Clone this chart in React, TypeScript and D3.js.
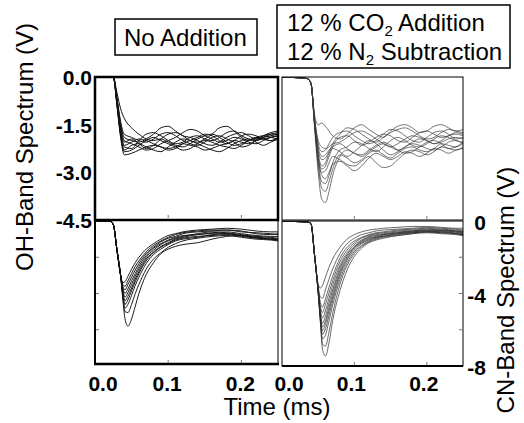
import * as d3 from 'd3';

// OH band, no addition
const ohTimeA = [0, 0.02, 0.025, 0.03, 0.035, 0.04, 0.05, 0.06, 0.07, 0.08, 0.09, 0.1, 0.11, 0.12, 0.13, 0.14, 0.15, 0.16, 0.17, 0.18, 0.19, 0.2, 0.21, 0.22, 0.23, 0.24, 0.25];
const ohNoAdd = [
  [0, 0, 0, -0.9, -1.9, -2.45, -2.4, -2.3, -2.2, -2.15, -2.2, -2.25, -2.2, -2.1, -2.15, -2.2, -2.3, -2.25, -2.15, -2.1, -2.0, -2.05, -2.1, -2.0, -1.95, -1.9, -1.85],
  [0, 0, 0, -0.8, -1.7, -2.2, -2.25, -2.0, -1.8, -1.75, -1.85, -2.0, -2.1, -2.05, -1.9, -1.85, -1.95, -2.0, -1.9, -1.75, -1.7, -1.85, -1.95, -2.0, -1.9, -1.8, -1.75],
  [0, 0, 0, -0.7, -1.5, -1.9, -2.0, -2.05, -1.95, -1.8, -1.6, -1.55, -1.7, -1.85, -1.9, -2.0, -2.1, -2.15, -2.05, -1.9, -1.8, -1.75, -1.85, -1.95, -1.9, -1.85, -1.8],
  [0, 0, 0, -0.5, -1.0, -1.3, -1.6, -1.8, -1.95, -2.0, -1.95, -2.05, -2.15, -2.2, -2.1, -1.95, -1.85, -1.8, -1.9, -2.05, -2.15, -2.1, -2.0, -1.9, -1.85, -1.9, -1.95],
  [0, 0, 0, -0.85, -1.8, -2.3, -2.15, -2.1, -2.2, -2.3, -2.35, -2.2, -2.05, -1.95, -2.0, -2.1, -2.2, -2.3, -2.35, -2.25, -2.1, -2.0, -1.95, -2.05, -2.15, -2.05, -1.95],
  [0, 0, 0, -0.75, -1.6, -2.05, -1.95, -2.1, -2.25, -2.15, -1.95, -1.8, -1.75, -1.85, -2.0, -2.05, -1.95, -1.8, -1.6, -1.55, -1.7, -1.9, -2.0, -1.95, -1.85, -1.75, -1.7],
  [0, 0, 0, -0.8, -1.75, -2.15, -2.05, -1.95, -2.0, -2.1, -2.2, -2.3, -2.25, -2.1, -2.0, -1.9, -1.8, -1.85, -2.0, -2.1, -2.0, -1.85, -1.8, -1.85, -1.95, -2.0, -1.9],
  [0, 0, 0, -0.7, -1.55, -2.0, -2.1, -2.2, -2.3, -2.25, -2.1, -2.0, -1.9, -1.75, -1.65, -1.7, -1.85, -1.95, -2.05, -2.0, -1.9, -1.95, -2.05, -2.1, -2.0, -1.9, -1.85],
  [0, 0, 0, -0.9, -1.85, -2.35, -2.3, -2.15, -2.0, -1.9, -2.0, -2.1, -2.2, -2.3, -2.25, -2.1, -2.0, -2.05, -2.15, -2.2, -2.25, -2.15, -2.0, -1.9, -1.95, -2.0, -1.95],
  [0, 0, 0, -0.65, -1.4, -1.8, -1.9, -2.0, -2.05, -1.95, -1.8, -1.75, -1.85, -2.0, -2.1, -2.15, -2.05, -1.9, -1.85, -1.95, -2.05, -2.2, -2.15, -2.0, -1.85, -1.8, -1.8],
];

// OH band, 12 % CO2 addition
const ohTimeB = [0, 0.02, 0.035, 0.04, 0.045, 0.05, 0.055, 0.06, 0.065, 0.07, 0.08, 0.09, 0.1, 0.11, 0.12, 0.13, 0.14, 0.15, 0.16, 0.17, 0.18, 0.19, 0.2, 0.21, 0.22, 0.23, 0.24, 0.25];
const ohCo2 = [
  [0, -0.02, -0.05, -0.2, -1.6, -3.0, -3.85, -3.95, -3.6, -3.1, -2.5, -2.3, -2.4, -2.5, -2.35, -2.2, -2.1, -2.2, -2.3, -2.2, -2.05, -1.95, -2.0, -2.1, -2.05, -1.95, -1.9, -1.95],
  [0, -0.02, -0.05, -0.2, -1.5, -2.8, -3.5, -3.6, -3.3, -2.9, -2.45, -2.55, -2.7, -2.6, -2.4, -2.3, -2.45, -2.55, -2.4, -2.25, -2.2, -2.3, -2.35, -2.25, -2.1, -2.15, -2.2, -2.1],
  [0, -0.02, -0.05, -0.2, -1.5, -2.7, -3.3, -3.35, -3.1, -2.7, -2.3, -2.2, -2.05, -2.1, -2.25, -2.35, -2.2, -2.0, -1.9, -2.0, -2.15, -2.2, -2.1, -1.95, -1.85, -1.9, -2.0, -2.05],
  [0, -0.02, -0.05, -0.2, -1.5, -2.6, -3.0, -2.95, -2.7, -2.5, -2.6, -2.75, -2.8, -2.65, -2.5, -2.7, -2.85, -2.8, -2.6, -2.4, -2.3, -2.35, -2.45, -2.35, -2.2, -2.25, -2.3, -2.2],
  [0, -0.02, -0.05, -0.2, -1.45, -2.5, -2.9, -2.8, -2.5, -2.2, -1.9, -1.85, -2.0, -2.15, -2.05, -1.9, -1.8, -1.85, -2.0, -2.05, -1.9, -1.75, -1.7, -1.8, -1.9, -1.85, -1.75, -1.8],
  [0, -0.02, -0.05, -0.2, -1.4, -2.4, -2.8, -2.7, -2.4, -2.25, -2.35, -2.5, -2.35, -2.15, -2.0, -2.1, -2.3, -2.45, -2.35, -2.2, -2.1, -2.15, -2.25, -2.3, -2.2, -2.05, -2.0, -2.1],
  [0, -0.02, -0.05, -0.2, -1.4, -2.3, -2.6, -2.55, -2.35, -2.1, -1.8, -1.6, -1.65, -1.8, -1.95, -2.05, -1.9, -1.75, -1.65, -1.6, -1.7, -1.85, -1.95, -1.9, -1.75, -1.65, -1.7, -1.75],
  [0, -0.02, -0.05, -0.2, -1.3, -2.2, -2.5, -2.45, -2.3, -2.2, -2.1, -2.25, -2.4, -2.45, -2.3, -2.15, -2.05, -2.15, -2.3, -2.4, -2.35, -2.2, -2.05, -2.0, -2.1, -2.25, -2.2, -2.05],
  [0, -0.02, -0.05, -0.2, -1.2, -1.5, -1.45, -1.55, -1.7, -1.85, -1.95, -1.8, -1.6, -1.5, -1.65, -1.8, -1.9, -1.7, -1.55, -1.5, -1.6, -1.75, -1.7, -1.55, -1.5, -1.6, -1.7, -1.65],
  [0, -0.02, -0.05, -0.2, -1.3, -2.0, -2.2, -2.25, -2.2, -2.1, -2.05, -1.9, -1.75, -1.7, -1.8, -1.95, -2.1, -2.2, -2.1, -1.95, -1.85, -1.9, -2.0, -2.1, -2.0, -1.85, -1.8, -1.85],
  [0, -0.02, -0.05, -0.2, -1.45, -2.55, -3.1, -3.2, -3.0, -2.75, -2.65, -2.8, -2.95, -2.8, -2.55, -2.4, -2.5, -2.6, -2.5, -2.35, -2.4, -2.5, -2.4, -2.25, -2.3, -2.4, -2.3, -2.25],
  [0, -0.02, -0.05, -0.2, -1.35, -2.1, -2.35, -2.3, -2.1, -1.9, -1.75, -1.7, -1.85, -2.0, -2.1, -2.0, -1.8, -1.65, -1.7, -1.85, -2.0, -2.05, -1.9, -1.75, -1.7, -1.8, -1.95, -1.9],
];

// CN band, no addition
const cnTimeA = [0, 0.02, 0.025, 0.03, 0.035, 0.038, 0.041, 0.045, 0.05, 0.055, 0.06, 0.07, 0.08, 0.09, 0.1, 0.11, 0.12, 0.14, 0.16, 0.18, 0.2, 0.22, 0.24, 0.25];
const cnNoAdd = [
  [0, 0, -0.2, -1.6, -3.0, -3.4, -3.35, -3.05, -2.65, -2.3, -2.0, -1.55, -1.25, -1.0, -0.8, -0.7, -0.6, -0.5, -0.45, -0.4, -0.45, -0.55, -0.6, -0.6],
  [0, 0, -0.2, -1.6, -3.0, -3.5, -3.6, -3.3, -2.9, -2.5, -2.2, -1.7, -1.35, -1.1, -0.9, -0.75, -0.65, -0.55, -0.5, -0.5, -0.6, -0.65, -0.7, -0.75],
  [0, 0, -0.2, -1.6, -3.0, -3.6, -3.8, -3.5, -3.1, -2.7, -2.35, -1.8, -1.45, -1.15, -0.95, -0.85, -0.7, -0.6, -0.55, -0.5, -0.55, -0.7, -0.75, -0.7],
  [0, 0, -0.2, -1.6, -3.0, -3.7, -4.0, -3.75, -3.3, -2.9, -2.5, -1.9, -1.5, -1.25, -1.05, -0.9, -0.8, -0.75, -0.65, -0.6, -0.7, -0.8, -0.85, -0.85],
  [0, 0, -0.2, -1.6, -3.0, -3.8, -4.2, -3.95, -3.5, -3.05, -2.65, -2.0, -1.6, -1.3, -1.1, -0.95, -0.85, -0.7, -0.6, -0.65, -0.75, -0.85, -0.9, -0.95],
  [0, 0, -0.2, -1.6, -3.0, -3.9, -4.4, -4.15, -3.7, -3.2, -2.8, -2.1, -1.7, -1.4, -1.2, -1.0, -0.9, -0.75, -0.7, -0.7, -0.8, -0.9, -1.0, -1.0],
  [0, 0, -0.2, -1.6, -3.0, -4.0, -4.6, -4.35, -3.85, -3.35, -2.9, -2.2, -1.75, -1.45, -1.25, -1.05, -0.95, -0.85, -0.8, -0.75, -0.85, -0.95, -1.0, -1.05],
  [0, 0, -0.2, -1.6, -3.0, -4.1, -4.8, -4.6, -4.1, -3.55, -3.1, -2.35, -1.85, -1.55, -1.3, -1.1, -1.0, -0.9, -0.75, -0.7, -0.8, -0.9, -0.95, -1.0],
  [0, 0, -0.2, -1.6, -3.0, -4.2, -5.0, -5.05, -4.6, -4.0, -3.5, -2.65, -2.1, -1.75, -1.45, -1.25, -1.1, -0.95, -0.85, -0.8, -0.9, -1.0, -1.05, -1.1],
  [0, 0, -0.2, -1.6, -3.0, -4.3, -5.4, -5.8, -5.4, -4.7, -4.0, -2.95, -2.3, -1.8, -1.55, -1.4, -1.3, -1.2, -1.0, -0.85, -0.8, -0.9, -1.0, -1.05],
];

// CN band, 12 % CO2 addition
const cnTimeB = [0, 0.02, 0.035, 0.04, 0.045, 0.05, 0.053, 0.056, 0.06, 0.065, 0.07, 0.08, 0.09, 0.1, 0.11, 0.12, 0.13, 0.14, 0.16, 0.18, 0.2, 0.22, 0.24, 0.25];
const cnCo2 = [
  [0, -0.03, -0.05, -0.15, -1.9, -3.5, -3.7, -3.55, -3.1, -2.55, -2.1, -1.45, -1.0, -0.75, -0.6, -0.5, -0.45, -0.4, -0.35, -0.3, -0.3, -0.35, -0.4, -0.4],
  [0, -0.03, -0.05, -0.15, -1.9, -3.6, -4.2, -4.25, -3.8, -3.2, -2.65, -1.8, -1.25, -0.95, -0.75, -0.65, -0.55, -0.5, -0.45, -0.4, -0.35, -0.4, -0.45, -0.5],
  [0, -0.03, -0.05, -0.15, -1.9, -3.7, -4.5, -4.75, -4.3, -3.65, -3.05, -2.05, -1.45, -1.1, -0.9, -0.75, -0.65, -0.6, -0.5, -0.45, -0.4, -0.45, -0.5, -0.55],
  [0, -0.03, -0.05, -0.15, -1.9, -3.75, -4.7, -5.05, -4.6, -3.95, -3.3, -2.25, -1.6, -1.2, -0.95, -0.8, -0.7, -0.65, -0.55, -0.5, -0.45, -0.5, -0.55, -0.6],
  [0, -0.03, -0.05, -0.15, -1.9, -3.8, -4.9, -5.35, -4.95, -4.25, -3.55, -2.45, -1.75, -1.3, -1.05, -0.85, -0.75, -0.7, -0.6, -0.55, -0.5, -0.5, -0.55, -0.6],
  [0, -0.03, -0.05, -0.15, -1.9, -3.85, -5.05, -5.65, -5.25, -4.5, -3.8, -2.6, -1.85, -1.4, -1.1, -0.9, -0.8, -0.75, -0.65, -0.55, -0.5, -0.55, -0.6, -0.65],
  [0, -0.03, -0.05, -0.15, -1.9, -3.85, -5.15, -5.85, -5.5, -4.75, -4.0, -2.75, -1.95, -1.45, -1.15, -0.95, -0.85, -0.75, -0.65, -0.6, -0.55, -0.55, -0.6, -0.7],
  [0, -0.03, -0.05, -0.15, -1.9, -3.9, -5.25, -6.05, -5.7, -4.95, -4.2, -2.9, -2.05, -1.5, -1.2, -1.0, -0.9, -0.8, -0.7, -0.6, -0.55, -0.6, -0.65, -0.7],
  [0, -0.03, -0.05, -0.15, -1.9, -3.9, -5.35, -6.25, -5.95, -5.2, -4.4, -3.05, -2.15, -1.6, -1.25, -1.05, -0.9, -0.85, -0.7, -0.65, -0.6, -0.6, -0.7, -0.75],
  [0, -0.03, -0.05, -0.15, -1.9, -3.95, -5.45, -6.5, -6.3, -5.5, -4.65, -3.25, -2.3, -1.7, -1.35, -1.1, -0.95, -0.85, -0.75, -0.65, -0.6, -0.65, -0.7, -0.75],
  [0, -0.03, -0.05, -0.15, -1.9, -3.95, -5.5, -6.8, -6.9, -6.1, -5.1, -3.5, -2.45, -1.8, -1.4, -1.15, -1.0, -0.9, -0.8, -0.7, -0.6, -0.65, -0.7, -0.8],
  [0, -0.03, -0.05, -0.15, -1.9, -4.0, -5.6, -7.1, -7.45, -6.7, -5.5, -3.85, -2.7, -1.95, -1.5, -1.2, -1.05, -0.95, -0.8, -0.7, -0.65, -0.7, -0.75, -0.8],
];

const xTicks = [0, 0.1, 0.2];
const ohTicks = [0, -1.5, -3, -4.5];
const cnTicks = [0, -4, -8];
const cnMinorTicks = [-2, -6];

const FONT = '"Liberation Sans", Arial, sans-serif';

type Scale = d3.ScaleLinear<number, number>;

function Traces(props: {
  id: string;
  x: Scale;
  y: Scale;
  time: number[];
  traces: number[][];
  color: string;
  width: number;
}) {
  const { id, x, y, time, traces, color, width } = props;
  const [x0, x1] = x.range();
  const [y0, y1] = y.range();
  const line = d3
    .line<number>()
    .x((_, i) => x(time[i]))
    .y((d) => y(d))
    .curve(d3.curveMonotoneX);
  return (
    <g>
      <clipPath id={id}>
        <rect x={x0} y={y1} width={x1 - x0} height={y0 - y1} />
      </clipPath>
      <g clipPath={`url(#${id})`} fill="none" stroke={color} strokeWidth={width}>
        {traces.map((tr, i) => (
          <path key={i} d={line(tr) ?? ''} />
        ))}
      </g>
    </g>
  );
}

export default function App() {
  const xLeft = d3.scaleLinear([0, 0.25], [95, 278]);
  const xRight = d3.scaleLinear([0, 0.25], [282, 463]);
  const yOH = d3.scaleLinear([-4.5, 0], [220, 77]);
  const yCN = d3.scaleLinear([-8, 0], [366, 221]);

  return (
    <svg
      width={524}
      height={423}
      style={{ position: 'absolute', left: 0, top: 0, background: '#fff' }}
      fontFamily={FONT}
    >
      {/* curves */}
      <Traces id="c1" x={xLeft} y={yOH} time={ohTimeA} traces={ohNoAdd} color="#111" width={1} />
      <Traces id="c2" x={xRight} y={yOH} time={ohTimeB} traces={ohCo2} color="#3a3a3a" width={0.7} />
      <Traces id="c3" x={xLeft} y={yCN} time={cnTimeA} traces={cnNoAdd} color="#111" width={0.95} />
      <Traces id="c4" x={xRight} y={yCN} time={cnTimeB} traces={cnCo2} color="#2a2a2a" width={0.7} />

      {/* frames */}
      <g fill="none" stroke="#000">
        <rect x={95} y={77} width={183} height={143} strokeWidth={2.5} />
        <rect x={282} y={77} width={181} height={143} strokeWidth={1} />
        <line x1={95} x2={95} y1={220} y2={364} strokeWidth={2} />
        <line x1={278} x2={278} y1={220} y2={364} strokeWidth={1} />
        <line x1={94} x2={279} y1={364} y2={364} strokeWidth={2.5} />
        <rect x={282} y={221} width={181} height={145} strokeWidth={1} />
        <line x1={282} x2={463} y1={366} y2={366} strokeWidth={2} />
      </g>

      {/* inner ticks */}
      <g stroke="#777" strokeWidth={1}>
        {xTicks.slice(1).map((t) => (
          <g key={t}>
            <line x1={xLeft(t)} x2={xLeft(t)} y1={218} y2={215} />
            <line x1={xLeft(t)} x2={xLeft(t)} y1={363} y2={360} />
            <line x1={xRight(t)} x2={xRight(t)} y1={219} y2={216} />
            <line x1={xRight(t)} x2={xRight(t)} y1={365} y2={362} />
          </g>
        ))}
        {[...cnMinorTicks, -4].map((v) => (
          <g key={v}>
            <line x1={96} x2={99} y1={yCN(v)} y2={yCN(v)} />
            <line x1={463} x2={459} y1={yCN(v)} y2={yCN(v)} />
          </g>
        ))}
      </g>

      {/* left axis ticks (OH) */}
      <g fontSize={21} fontWeight="bold" textAnchor="end">
        {ohTicks.map((v) => (
          <text key={v} x={92} y={yOH(v) + 8}>
            {d3.format('.1f')(v).replace('−', '-')}
          </text>
        ))}
      </g>
      {/* right axis ticks (CN) */}
      <g fontSize={21} fontWeight="bold" textAnchor="end">
        {cnTicks.map((v) => (
          <text key={v} x={486} y={yCN(v) + 9}>
            {String(v)}
          </text>
        ))}
      </g>
      {/* x ticks */}
      <g fontSize={21} fontWeight="bold" textAnchor="middle">
        {xTicks.map((t) => (
          <g key={t}>
            <text x={xLeft(t) + (t === 0 ? 8 : -1)} y={391}>
              {t.toFixed(1)}
            </text>
            <text x={xRight(t) + (t === 0 ? 7 : -3)} y={391}>
              {t.toFixed(1)}
            </text>
          </g>
        ))}
      </g>

      {/* axis titles */}
      <text x={277} y={415} fontSize={24} textAnchor="middle">
        Time (ms)
      </text>
      <text transform="translate(33,147) rotate(-90)" fontSize={24} textAnchor="middle">
        OH-Band Spectrum (V)
      </text>
      <text transform="translate(514,290) rotate(-90)" fontSize={24} textAnchor="middle">
        CN-Band Spectrum (V)
      </text>

      {/* condition boxes */}
      <rect x={115} y={19} width={142} height={36} fill="none" stroke="#000" strokeWidth={1.5} />
      <text x={124} y={46} fontSize={24}>
        No Addition
      </text>
      <rect x={277} y={5} width={233} height={63} fill="none" stroke="#000" strokeWidth={1.5} />
      <text x={287} y={31} fontSize={24}>
        12 % CO<tspan fontSize={15} dy={5}>2</tspan>
        <tspan dy={-5}> Addition</tspan>
      </text>
      <text x={287} y={60} fontSize={24}>
        12 % N<tspan fontSize={15} dy={5}>2</tspan>
        <tspan dy={-5}> Subtraction</tspan>
      </text>
    </svg>
  );
}
